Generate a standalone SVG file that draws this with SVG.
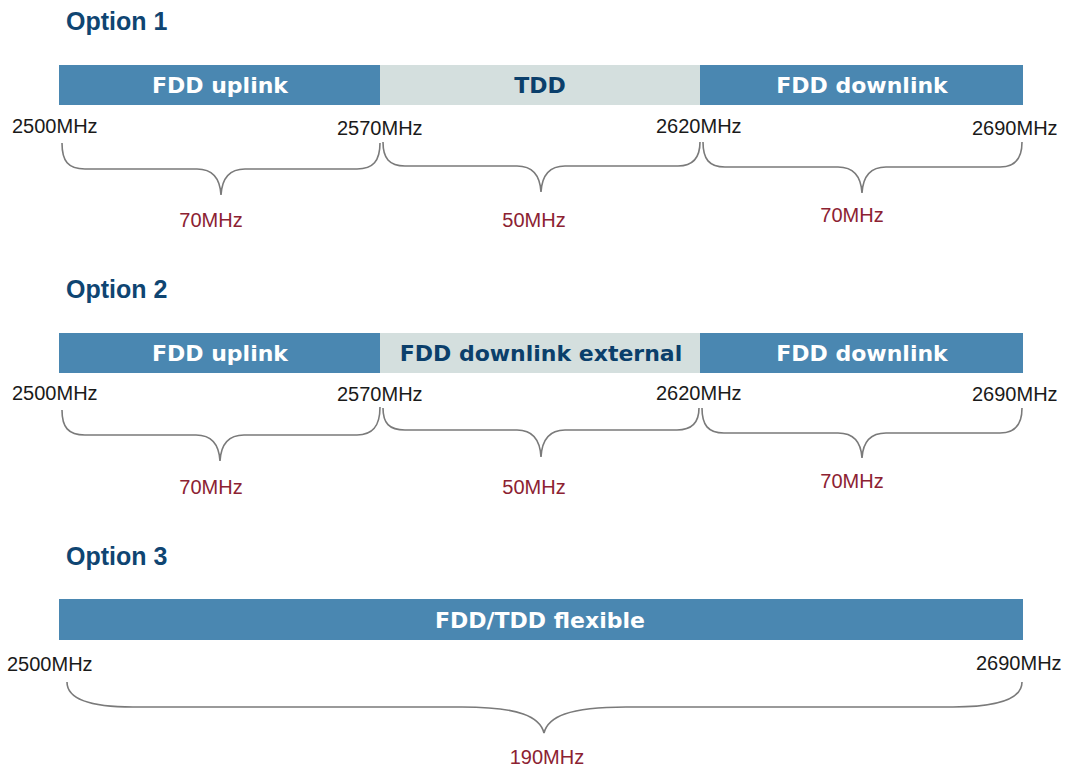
<svg xmlns="http://www.w3.org/2000/svg" width="1070" height="767" viewBox="0 0 1070 767">
  <style>
    .title { font-family: "Liberation Sans", Arial, sans-serif; font-weight: bold; font-size: 25px; fill: #0f4572; }
    .band { fill: #4a87b1; }
    .band-alt { fill: #d4dfde; }
    .band-label { font-family: "DejaVu Sans", Verdana, sans-serif; font-weight: bold; font-size: 22px; fill: #ffffff; text-anchor: middle; }
    .band-label-alt { font-family: "DejaVu Sans", Verdana, sans-serif; font-weight: bold; font-size: 22px; fill: #0b3f6b; text-anchor: middle; }
    .freq { font-family: "Liberation Sans", Arial, sans-serif; font-size: 20px; fill: #1a1a1a; }
    .span { font-family: "Liberation Sans", Arial, sans-serif; font-size: 20px; fill: #8c2232; text-anchor: middle; }
    .brace { fill: none; stroke: #7a7a7a; stroke-width: 1.6; }
  </style>

  <rect width="1070" height="767" fill="#ffffff"/>

  <!-- Option 1: FDD uplink / TDD / FDD downlink -->
  <g id="option1">
    <text class="title" x="66" y="30">Option 1</text>
    <g id="opt1-fdd-uplink">
      <rect class="band" x="59" y="65" width="321" height="40"/>
      <text class="band-label" x="220" y="93">FDD uplink</text>
    </g>
    <g id="opt1-tdd">
      <rect class="band-alt" x="380" y="65" width="320" height="40"/>
      <text class="band-label-alt" x="540" y="93">TDD</text>
    </g>
    <g id="opt1-fdd-downlink">
      <rect class="band" x="700" y="65" width="323" height="40"/>
      <text class="band-label" x="862" y="93">FDD downlink</text>
    </g>
    <text class="freq" x="12" y="133">2500MHz</text>
    <text class="freq" x="337" y="135">2570MHz</text>
    <text class="freq" x="656" y="133">2620MHz</text>
    <text class="freq" x="972" y="135">2690MHz</text>
    <text class="span" x="211" y="227">70MHz</text>
    <text class="span" x="534" y="227">50MHz</text>
    <text class="span" x="852" y="222">70MHz</text>
  </g>

  <!-- Option 2: FDD uplink / FDD downlink external / FDD downlink -->
  <g id="option2">
    <text class="title" x="66" y="298">Option 2</text>
    <g id="opt2-fdd-uplink">
      <rect class="band" x="59" y="333" width="321" height="40"/>
      <text class="band-label" x="220" y="361">FDD uplink</text>
    </g>
    <g id="opt2-fdd-downlink-external">
      <rect class="band-alt" x="380" y="333" width="320" height="40"/>
      <text class="band-label-alt" x="541" y="361">FDD downlink external</text>
    </g>
    <g id="opt2-fdd-downlink">
      <rect class="band" x="700" y="333" width="323" height="40"/>
      <text class="band-label" x="862" y="361">FDD downlink</text>
    </g>
    <text class="freq" x="12" y="400">2500MHz</text>
    <text class="freq" x="337" y="401">2570MHz</text>
    <text class="freq" x="656" y="400">2620MHz</text>
    <text class="freq" x="972" y="401">2690MHz</text>
    <text class="span" x="211" y="494">70MHz</text>
    <text class="span" x="534" y="494">50MHz</text>
    <text class="span" x="852" y="488">70MHz</text>
  </g>

  <!-- Option 3: single flexible band -->
  <g id="option3">
    <text class="title" x="66" y="565">Option 3</text>
    <g id="opt3-flexible">
      <rect class="band" x="59" y="599" width="964" height="41"/>
      <text class="band-label" x="540" y="628">FDD/TDD flexible</text>
    </g>
    <text class="freq" x="7" y="671">2500MHz</text>
    <text class="freq" x="976" y="670">2690MHz</text>
    <text class="span" x="547" y="764">190MHz</text>
  </g>

  <!-- Curly braces spanning each band -->
  <g id="braces">
    <path class="brace" d="M62,143 C62,161 68,169 85,169 L197,169 C212,169 220,178 221,195 C222,178 230,169 245,169 L357,169 C373,169 380,161 380,143"/>
    <path class="brace" d="M383,142 C383,158 389,166 405,166 L517,166 C532,166 540,175 541,192 C542,175 550,166 565,166 L678,166 C693,166 700,158 700,142"/>
    <path class="brace" d="M703,142 C703,159 709,167 725,167 L838,167 C853,167 861,176 862,193 C863,176 871,167 886,167 L1000,167 C1015,167 1022,159 1022,142"/>

    <path class="brace" d="M62,410 C62,427 68,435 85,435 L196,435 C211,435 219,444 220,461 C221,444 229,435 244,435 L357,435 C373,435 380,426 380,407"/>
    <path class="brace" d="M383,408 C383,423 389,430 405,430 L517,430 C532,430 540,439 541,457 C542,439 550,430 565,430 L677,430 C692,430 699,423 699,408"/>
    <path class="brace" d="M702,408 C702,425 708,433 724,433 L838,433 C853,433 861,441 862,458 C863,441 871,433 886,433 L1000,433 C1015,433 1022,425 1022,408"/>

    <path class="brace" d="M67,682 C67,698 88,707 133,707 L462,707 C520,707 540,717 544,733 C548,717 568,707 626,707 L953,707 C1000,707 1022,698 1022,682"/>
  </g>
</svg>
